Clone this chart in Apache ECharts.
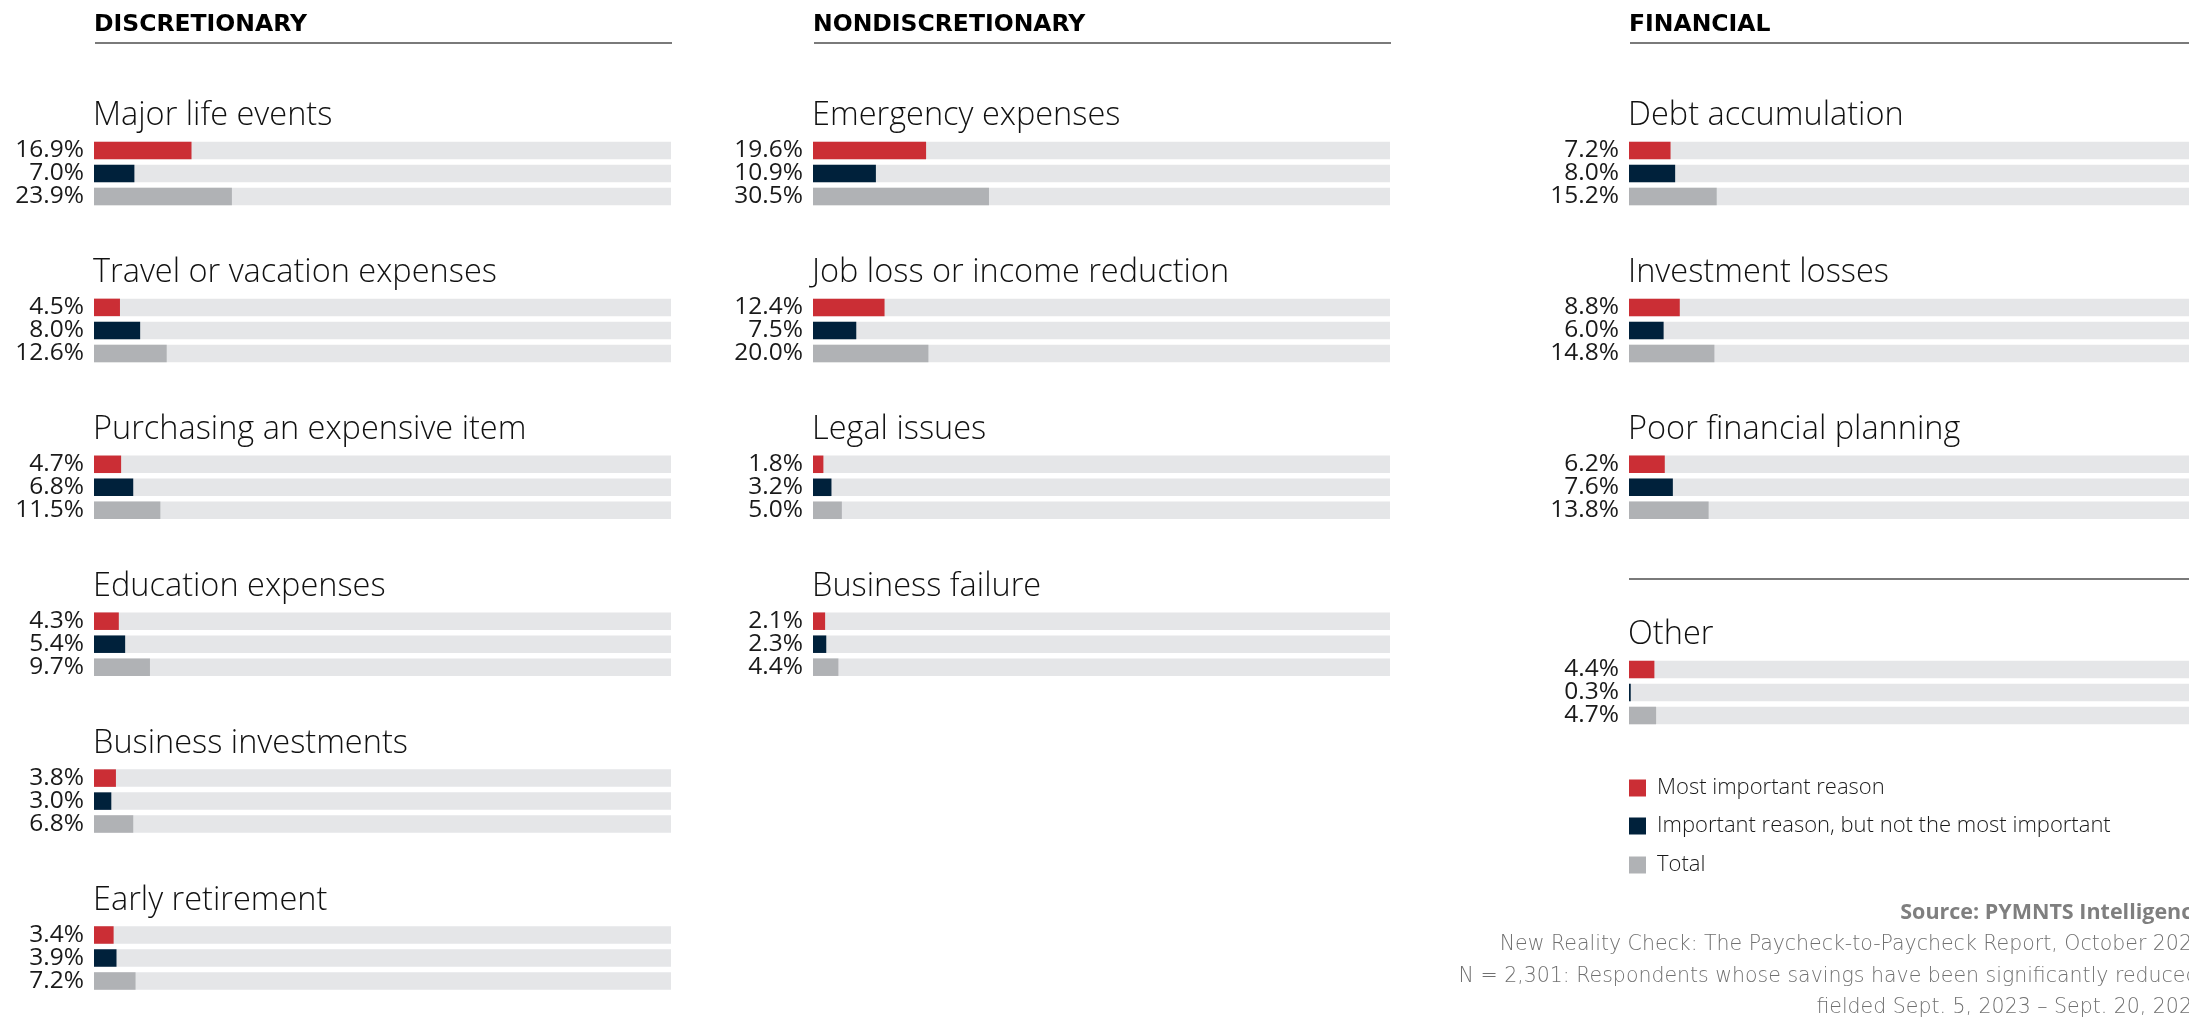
<!DOCTYPE html>
<html>
<head>
<meta charset="utf-8">
<script src="https://cdn.jsdelivr.net/npm/echarts@6/dist/echarts.min.js"></script>
<style>
  html, body { margin: 0; padding: 0; background: #fff; }
  #chart { width: 2189px; height: 1019px; }
</style>
</head>
<body>
<div id="chart"></div>
<script>
// Data
const sectionNames = ['DISCRETIONARY', 'NONDISCRETIONARY', 'FINANCIAL'];

const discretionaryReasons = ['Major life events', 'Travel or vacation expenses', 'Purchasing an expensive item', 'Education expenses', 'Business investments', 'Early retirement'];
const discretionaryMost = [16.9, 4.5, 4.7, 4.3, 3.8, 3.4];
const discretionaryImportant = [7.0, 8.0, 6.8, 5.4, 3.0, 3.9];
const discretionaryTotal = [23.9, 12.6, 11.5, 9.7, 6.8, 7.2];

const nondiscretionaryReasons = ['Emergency expenses', 'Job loss or income reduction', 'Legal issues', 'Business failure'];
const nondiscretionaryMost = [19.6, 12.4, 1.8, 2.1];
const nondiscretionaryImportant = [10.9, 7.5, 3.2, 2.3];
const nondiscretionaryTotal = [30.5, 20.0, 5.0, 4.4];

const financialReasons = ['Debt accumulation', 'Investment losses', 'Poor financial planning'];
const financialMost = [7.2, 8.8, 6.2];
const financialImportant = [8.0, 6.0, 7.6];
const financialTotal = [15.2, 14.8, 13.8];

const otherReasons = ['Other'];
const otherMost = [4.4];
const otherImportant = [0.3];
const otherTotal = [4.7];

const legendNames = ['Most important reason', 'Important reason, but not the most important', 'Total'];
const sourceLines = [
  'New Reality Check: The Paycheck-to-Paycheck Report, October 2023',
  'N = 2,301: Respondents whose savings have been significantly reduced,',
  'fielded Sept. 5, 2023 \u2013 Sept. 20, 2023'
];

// Style
const colors = ['#cb2e35', '#00213b', '#b0b2b5'];
const trackColor = '#e5e6e8';
const colX = [94, 813, 1629];
const barAreaW = 577;
const firstTop = 139;
const rowPitch = 156.9;
const font = '"Open Sans", sans-serif';
const lightFont = '"DejaVu Sans", sans-serif';

const myChart = echarts.init(document.getElementById('chart'), null, { renderer: 'canvas' });

const grids = [];
const xAxes = [];
const yAxes = [];
const seriesList = [];
const graphics = [];

const addGroup = (col, top, title, most, important, total) => {
  const idx = grids.length;
  grids.push({ left: colX[col], top: top, width: barAreaW, height: 69, outerBoundsMode: 'none' });
  xAxes.push({ gridIndex: idx, type: 'value', min: 0, max: 100, show: false });
  yAxes.push({ gridIndex: idx, type: 'category', inverse: true, show: false, data: legendNames });
  seriesList.push({
    type: 'bar',
    xAxisIndex: idx,
    yAxisIndex: idx,
    barWidth: 17.5,
    silent: true,
    showBackground: true,
    backgroundStyle: { color: trackColor },
    label: {
      show: true,
      position: 'left',
      distance: 10,
      color: '#1a1a1a',
      fontFamily: font,
      fontSize: 24.5,
      formatter: p => p.value.toFixed(1) + '%'
    },
    data: [most, important, total].map((v, i) => ({ value: v, itemStyle: { color: colors[i] } }))
  });
  graphics.push({
    type: 'text', x: colX[col] - 1, y: top - 23,
    style: { text: title, fontFamily: font, fontWeight: 300, fontSize: 32.5, fill: '#111', textVerticalAlign: 'middle' }
  });
};

// sections
const sectionData = [
  [discretionaryReasons, discretionaryMost, discretionaryImportant, discretionaryTotal],
  [nondiscretionaryReasons, nondiscretionaryMost, nondiscretionaryImportant, nondiscretionaryTotal],
  [financialReasons, financialMost, financialImportant, financialTotal]
];
sectionData.forEach((sec, col) => {
  graphics.push({
    type: 'text', left: colX[col], top: 13,
    style: { text: sectionNames[col], fontFamily: '"DejaVu Sans", sans-serif', fontWeight: 'bold', fontSize: 23.5, fill: '#000' }
  });
  graphics.push({
    type: 'rect', shape: { x: colX[col] + 1, y: 42, width: barAreaW, height: 2 },
    style: { fill: '#7a7a7a' }
  });
  sec[0].forEach((name, i) => {
    addGroup(col, firstTop + i * rowPitch, name, sec[1][i], sec[2][i], sec[3][i]);
  });
});

// Other
graphics.push({
  type: 'rect', shape: { x: colX[2], y: 578, width: barAreaW, height: 2 },
  style: { fill: '#7a7a7a' }
});
addGroup(2, 658, otherReasons[0], otherMost[0], otherImportant[0], otherTotal[0]);

// legend
const legendY = [788, 826, 865];
legendNames.forEach((name, i) => {
  graphics.push({
    type: 'rect', shape: { x: colX[2], y: legendY[i] - 8.5, width: 17, height: 17 },
    style: { fill: colors[i] }
  });
  graphics.push({
    type: 'text', x: 1657, y: legendY[i],
    style: { text: name, fontFamily: font, fontWeight: 300, fontSize: 22, fill: '#1a1a1a', textVerticalAlign: 'middle' }
  });
});

// source
const srcRight = 2205;
graphics.push({
  type: 'text', x: srcRight, y: 913,
  style: { text: 'Source: PYMNTS Intelligence', fontFamily: font, fontWeight: 'bold', fontSize: 21.5, fill: '#7f7f7f', textAlign: 'right', textVerticalAlign: 'middle' }
});
sourceLines.forEach((line, i) => {
  graphics.push({
    type: 'text', x: srcRight, y: 945 + i * 31.5,
    style: { text: line, fontFamily: lightFont, fontWeight: 200, fontSize: 20.5, fill: '#707070', textAlign: 'right', textVerticalAlign: 'middle' }
  });
});

const option = {
  animation: false,
  backgroundColor: '#fff',
  grid: grids,
  xAxis: xAxes,
  yAxis: yAxes,
  series: seriesList,
  graphic: graphics
};
myChart.setOption(option);
</script>
</body>
</html>
